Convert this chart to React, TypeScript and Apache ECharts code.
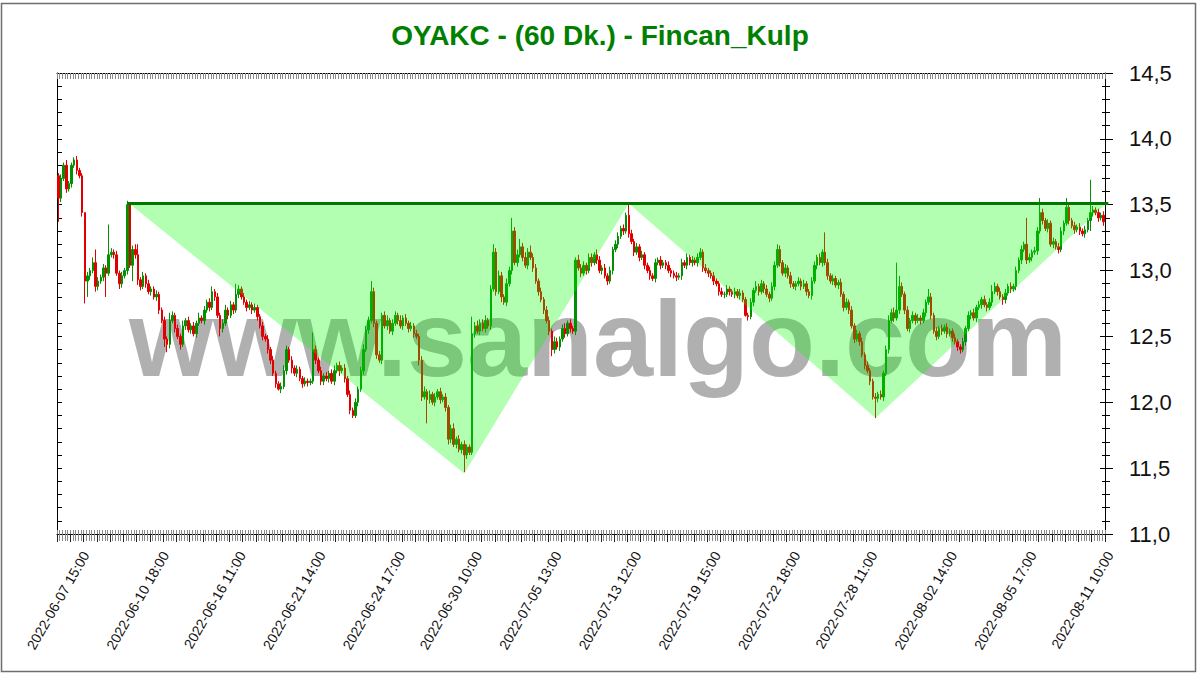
import React, { useEffect, useRef } from "react";
import * as echarts from "echarts";

const titleText = "OYAKC - (60 Dk.) - Fincan_Kulp";
const watermarkText = "www.sanalgo.com";

const tradingDays = [
  "2022-06-06", "2022-06-07", "2022-06-08", "2022-06-09", "2022-06-10",
  "2022-06-13", "2022-06-14", "2022-06-15", "2022-06-16", "2022-06-17",
  "2022-06-20", "2022-06-21", "2022-06-22", "2022-06-23", "2022-06-24",
  "2022-06-27", "2022-06-28", "2022-06-29", "2022-06-30", "2022-07-01",
  "2022-07-04", "2022-07-05", "2022-07-06", "2022-07-07", "2022-07-08",
  "2022-07-13", "2022-07-14",
  "2022-07-18", "2022-07-19", "2022-07-20", "2022-07-21", "2022-07-22",
  "2022-07-25", "2022-07-26", "2022-07-27", "2022-07-28", "2022-07-29",
  "2022-08-01", "2022-08-02", "2022-08-03", "2022-08-04", "2022-08-05",
  "2022-08-08", "2022-08-09", "2022-08-10", "2022-08-11",
];
const shortDays: Record<string, number> = { "2022-07-08": 4 };
const firstSlot = "2022-06-06 16:00";
const lastSlot = "2022-08-11 10:00";

const xTickLabels = [
  "2022-06-07 15:00", "2022-06-10 18:00", "2022-06-16 11:00", "2022-06-21 14:00",
  "2022-06-24 17:00", "2022-06-30 10:00", "2022-07-05 13:00", "2022-07-13 12:00",
  "2022-07-19 15:00", "2022-07-22 18:00", "2022-07-28 11:00", "2022-08-02 14:00",
  "2022-08-05 17:00", "2022-08-11 10:00",
];

// prices in kuruş (1/100 TL); open of each bar = previous close
const firstOpen = 1372;
const closes = [
  1355,1370,1380,1362,1366,1380,1384,1376,1372,1344, 1292,1296,1300,1306,1288,1292,1295,1302,1298,1312,
  1314,1312,1298,1290,1296,1300,1350,1304,1316,1312, 1293,1288,1296,1290,1284,1286,1280,1282,1270,1262,
  1248,1244,1262,1266,1256,1250,1244,1258,1262,1255, 1258,1252,1260,1264,1262,1270,1276,1272,1284,1280,
  1266,1256,1260,1270,1266,1274,1270,1282,1286,1280, 1276,1272,1274,1270,1272,1265,1258,1250,1248,1240,
  1232,1222,1214,1210,1212,1224,1240,1232,1226,1222, 1225,1218,1214,1216,1215,1216,1240,1232,1224,1216,
  1220,1218,1222,1216,1224,1228,1224,1226,1218,1206, 1194,1190,1200,1210,1224,1240,1255,1262,1284,1260,
  1236,1232,1266,1258,1262,1254,1260,1266,1262,1258, 1264,1260,1256,1258,1252,1250,1232,1204,1208,1202,
  1206,1200,1204,1208,1202,1204,1196,1172,1180,1168, 1172,1164,1168,1160,1166,1162,1252,1258,1254,1260,
  1256,1262,1258,1286,1314,1284,1296,1280,1276,1290, 1300,1330,1306,1312,1318,1310,1304,1314,1310,1302,
  1292,1284,1278,1270,1262,1254,1240,1246,1242,1248, 1256,1252,1260,1256,1254,1308,1302,1298,1304,1300,
  1310,1306,1312,1308,1300,1302,1296,1292,1300,1316, 1320,1326,1332,1330,1342,1328,1322,1314,1318,1310,
  1312,1304,1300,1296,1294,1306,1308,1304,1306,1304, 1300,1298,1296,1295,1296,1306,1304,1310,1306,1308,
  1306,1310,1314,1302,1300,1298,1296,1292,1290,1284, 1282,1282,1286,1284,1282,1284,1281,1283,1278,1266,
  1265,1276,1285,1288,1284,1290,1286,1282,1279,1288, 1304,1316,1306,1298,1302,1296,1290,1288,1290,1292,
  1288,1290,1284,1281,1292,1304,1310,1306,1314,1306, 1296,1292,1294,1289,1291,1282,1272,1276,1270,1258,
  1248,1252,1246,1236,1228,1224,1216,1204,1203,1206, 1204,1222,1240,1262,1268,1264,1270,1288,1282,1270,
  1256,1262,1266,1262,1264,1262,1268,1276,1280,1266, 1254,1250,1256,1254,1257,1252,1254,1249,1246,1242,
  1240,1246,1256,1266,1268,1264,1272,1274,1278,1274, 1272,1276,1284,1288,1284,1280,1278,1283,1288,1286,
  1288,1300,1308,1316,1320,1308,1310,1314,1315,1330, 1344,1338,1332,1336,1320,1322,1318,1316,1330,1336,
  1348,1338,1334,1331,1333,1330,1328,1331,1338,1344, 1346,1344,1340,1342,1337,1330,
];
// upper wick above the body, kuruş
const wickUp = [
  2,3,2,4,2,2,2,3,2,2, 0,3,2,4,10,3,2,3,2,23,
  3,2,3,2,3,2,3,0,3,4, 8,2,3,2,3,2,2,3,2,2,
  3,2,6,3,2,3,2,4,2,3, 2,3,2,4,2,3,2,3,4,2,
  3,2,3,4,2,3,2,8,3,2, 3,2,3,2,3,2,2,3,2,3,
  2,3,2,2,3,4,3,2,3,2, 3,2,2,3,2,2,13,3,2,3,
  2,3,2,3,4,2,3,2,3,2, 3,2,3,2,3,4,3,3,8,3,
  2,3,2,3,4,2,3,3,2,4, 2,3,2,3,2,3,2,3,4,2,
  3,2,3,2,3,2,3,2,3,4, 2,3,2,3,2,2,13,3,4,3,
  3,4,2,3,6,3,4,3,2,4, 3,10,3,4,6,3,4,3,5,3,
  3,2,3,2,3,3,2,4,3,2, 3,4,2,3,2,2,4,3,3,2,
  3,3,2,4,3,2,3,2,3,2, 3,3,2,3,2,9,3,2,3,2,
  3,2,2,3,2,3,2,3,2,2, 3,2,2,3,2,3,2,3,2,3,
  2,3,3,2,3,2,2,3,2,2, 3,2,3,2,2,3,2,3,2,2,
  2,3,2,4,2,3,2,3,2,3, 3,4,3,2,3,2,3,2,2,3,
  2,3,2,2,3,3,2,3,2,15, 3,2,3,2,2,3,2,3,2,3,
  2,3,2,3,2,3,2,2,3,2, 3,2,3,4,3,4,36,8,3,2,
  3,2,3,2,3,2,3,2,6,3, 2,3,2,3,2,3,2,2,3,2,
  2,3,2,3,2,3,2,3,2,3, 2,3,5,3,2,3,2,3,2,3,
  2,3,2,3,2,20,3,2,3,3, 11,3,2,3,2,3,2,3,3,2,
  7,3,2,3,2,3,2,3,2,25, 3,2,3,2,3,2,
];
// lower wick below the body, kuruş
const wickDown = [
  18,3,2,3,2,3,2,3,2,3, 17,12,3,2,4,3,2,3,18,2,
  2,3,2,4,3,2,3,2,12,3, 4,3,2,3,2,3,2,3,3,2,
  6,6,3,2,3,2,4,2,3,2, 3,2,3,2,2,3,2,3,2,3,
  2,6,3,2,3,2,3,2,3,2, 2,3,2,3,2,3,2,3,2,3,
  3,2,3,1,3,2,3,2,4,2, 3,2,3,2,3,2,2,3,2,3,
  3,2,3,2,3,2,4,2,3,2, 3,2,2,3,2,3,2,3,2,3,
  3,2,3,2,3,2,3,2,3,2, 3,2,3,2,3,2,4,3,2,18,
  3,2,3,2,3,2,3,4,3,2, 3,2,3,13,3,2,2,3,2,3,
  2,3,2,3,2,3,2,4,2,3, 2,3,2,3,2,3,2,3,2,3,
  2,3,2,3,2,3,5,3,2,3, 2,3,2,3,2,3,2,3,2,3,
  2,3,2,3,2,3,2,3,2,3, 2,3,2,3,2,3,2,3,2,3,
  2,3,2,3,2,3,2,3,2,3, 2,3,2,3,2,3,2,3,2,3,
  2,3,2,3,2,3,2,3,2,3, 2,3,2,3,2,3,2,3,2,1,
  3,2,3,2,3,2,3,2,3,2, 3,2,3,2,3,2,3,2,3,2,
  3,2,3,2,3,2,3,2,3,2, 3,2,3,2,3,2,3,2,3,2,
  3,2,3,2,3,2,3,2,15,3, 2,3,2,3,2,3,2,3,2,3,
  2,3,2,3,2,3,2,3,2,3, 2,3,2,3,2,3,2,3,2,3,
  3,2,3,2,3,2,3,2,3,2, 3,2,3,2,3,2,4,3,2,3,
  2,3,2,3,2,3,2,3,2,3, 2,3,2,3,2,3,2,3,2,3,
  2,3,2,3,2,3,2,3,2,8, 3,2,3,2,3,2,
];

// cup & handle pattern vertices (bar index, price)
const patternIdx = [26, 153, 215, 308, 395];
const patternVal = [13.52, 11.46, 13.51, 11.88, 13.51];
const resistanceLevel = 13.51;
const resistanceFrom = 26;
const resistanceTo = 395;

function buildSlots(): string[] {
  const out: string[] = [];
  for (const d of tradingDays) {
    const n = shortDays[d] ?? 9;
    for (let h = 0; h < n; h++) out.push(`${d} ${String(10 + h).padStart(2, "0")}:00`);
  }
  return out.slice(out.indexOf(firstSlot), out.indexOf(lastSlot) + 1);
}

const FONT = '"Liberation Sans", Arial, sans-serif';

export default function App() {
  const ref = useRef<HTMLDivElement>(null);
  useEffect(() => {
    if (!ref.current) return;
    const chart = echarts.init(ref.current, undefined, { renderer: "svg" });
    const cats = buildSlots();
    const candles = closes.map((c, i) => {
      const o = i === 0 ? firstOpen : closes[i - 1];
      const hi = Math.max(o, c) + (wickUp[i] ?? 2);
      const lo = Math.min(o, c) - (wickDown[i] ?? 2);
      return [o / 100, c / 100, lo / 100, hi / 100];
    });
    const labelSet = new Set(xTickLabels);
    const yBase = {
      type: "value",
      min: 11,
      max: 14.5,
      interval: 0.5,
      scale: true,
      splitLine: { show: false },
    };
    const xBase = {
      type: "category",
      data: cats,
      boundaryGap: true,
      splitLine: { show: false },
    };
    chart.setOption({
      animation: false,
      backgroundColor: "#ffffff",
      title: {
        text: titleText,
        left: "center",
        top: 16,
        textStyle: { color: "#008000", fontSize: 28, fontWeight: "bold", fontFamily: FONT },
      },
      grid: { left: 57, right: 95, top: 73, bottom: 142 },
      graphic: [
        {
          type: "rect",
          z: 0,
          shape: { x: 1.5, y: 3.5, width: 1194, height: 668 },
          style: { fill: "none", stroke: "#6e6e6e", lineWidth: 1.5 },
          silent: true,
        },
        {
          type: "text",
          z: 1,
          x: 598,
          y: 338,
          silent: true,
          style: {
            text: watermarkText,
            fontSize: 108,
            fontWeight: "bold",
            fontFamily: FONT,
            fill: "#b0b0b0",
            align: "center",
            verticalAlign: "middle",
          },
        },
      ],
      xAxis: [
        {
          ...xBase,
          position: "bottom",
          axisLine: { show: true, lineStyle: { color: "#000", width: 1 } },
          axisTick: { show: true, interval: 0, length: 7, lineStyle: { color: "#8a8a8a", width: 1 } },
          axisLabel: {
            show: true,
            interval: (_i: number, v: string) => labelSet.has(v),
            rotate: 60,
            margin: 15,
            verticalAlign: "top",
            fontSize: 14,
            fontFamily: FONT,
            color: "#111",
          },
        },
        {
          ...xBase,
          position: "bottom",
          axisLine: { show: false },
          axisTick: { show: true, interval: 0, inside: true, length: 4, lineStyle: { color: "#8a8a8a", width: 1 } },
          axisLabel: { show: false },
        },
        {
          ...xBase,
          position: "bottom",
          axisLine: { show: false },
          axisTick: { show: true, interval: 4, length: 8, lineStyle: { color: "#222", width: 1 } },
          axisLabel: { show: false },
        },
        {
          ...xBase,
          position: "top",
          axisLine: { show: true, lineStyle: { color: "#000", width: 1 } },
          axisTick: { show: true, interval: 0, inside: true, length: 6, lineStyle: { color: "#8a8a8a", width: 1 } },
          axisLabel: { show: false },
        },
      ],
      yAxis: [
        {
          ...yBase,
          position: "right",
          axisLine: { show: true, lineStyle: { color: "#000" } },
          axisTick: { show: true, length: 8, lineStyle: { color: "#000" } },
          minorTick: { show: true, splitNumber: 5, length: 5, lineStyle: { color: "#000" } },
          axisLabel: {
            margin: 24,
            fontSize: 22,
            fontFamily: FONT,
            color: "#111",
            formatter: (v: number) => v.toFixed(1).replace(".", ","),
          },
        },
        {
          ...yBase,
          position: "right",
          axisLine: { show: false },
          axisTick: { show: true, inside: true, length: 5, lineStyle: { color: "#000" } },
          minorTick: { show: true, splitNumber: 5, length: 3, lineStyle: { color: "#000" } },
          axisLabel: { show: false },
        },
        {
          ...yBase,
          position: "left",
          axisLine: { show: true, lineStyle: { color: "#000" } },
          axisTick: { show: true, inside: true, length: 5, lineStyle: { color: "#000" } },
          minorTick: { show: true, splitNumber: 5, length: 5, lineStyle: { color: "#000" } },
          axisLabel: { show: false },
        },
      ],
      series: [
        {
          type: "candlestick",
          xAxisIndex: 0,
          yAxisIndex: 0,
          z: 2,
          barWidth: 2,
          data: candles,
          itemStyle: {
            color: "#009000",
            color0: "#e00000",
            borderColor: "#009000",
            borderColor0: "#e00000",
            borderWidth: 1,
          },
        },
        {
          type: "custom",
          xAxisIndex: 0,
          yAxisIndex: 0,
          z: 5,
          silent: true,
          data: [[0, 13]],
          renderItem: (_p: any, api: any) => {
            const pts = patternIdx.map((ix, k) => api.coord([ix, patternVal[k]]));
            const a = api.coord([resistanceFrom, resistanceLevel]);
            const b = api.coord([resistanceTo, resistanceLevel]);
            const fill = "rgba(0,255,0,0.3)";
            return {
              type: "group",
              children: [
                { type: "polygon", shape: { points: [pts[0], pts[1], pts[2]] }, style: { fill } },
                { type: "polygon", shape: { points: [pts[2], pts[3], pts[4]] }, style: { fill } },
                {
                  type: "line",
                  shape: { x1: a[0], y1: a[1], x2: b[0] + 2, y2: b[1] },
                  style: { stroke: "#007800", lineWidth: 3 },
                },
              ],
            };
          },
        },
      ],
    });
    return () => chart.dispose();
  }, []);
  return (
    <div
      ref={ref}
      style={{ position: "fixed", left: 0, top: 0, width: 1200, height: 676, background: "#fff" }}
    />
  );
}
